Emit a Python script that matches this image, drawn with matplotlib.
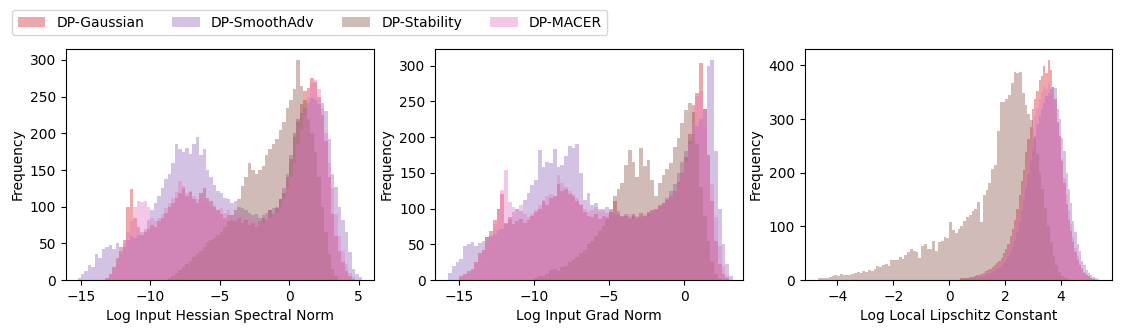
import numpy as np
import matplotlib.pyplot as plt

labels = ["DP-Gaussian", "DP-SmoothAdv", "DP-Stability", "DP-MACER"]
colors = ["tab:red", "tab:purple", "tab:brown", "tab:pink"]

# ---- panel 1: log input hessian spectral norm (bin width 0.25) ----
hess_width = 0.25
hess_gauss_start = -13.25
hess_gauss = [3, 8, 18, 30, 45, 55, 100, 124, 85, 72, 62, 66, 70, 75, 72, 80, 85, 92,
              100, 105, 112, 118, 125, 115, 120, 110, 105, 118, 125, 112, 108, 100, 95,
              90, 85, 88, 82, 80, 85, 78, 82, 75, 78, 72, 80, 85, 82, 95, 90, 98, 110,
              118, 140, 165, 200, 220, 240, 258, 262, 275, 270, 250, 225, 190, 140, 90,
              60, 40, 25, 12, 6, 2]
hess_smooth_start = -15.25
hess_smooth = [3, 8, 12, 20, 18, 35, 30, 42, 45, 48, 42, 50, 40, 45, 55, 60, 58, 62, 65,
               70, 82, 95, 105, 115, 125, 138, 145, 160, 185, 178, 175, 180, 172, 185,
               195, 170, 178, 150, 140, 130, 122, 118, 112, 110, 105, 108, 100, 98, 95,
               92, 88, 90, 85, 88, 92, 95, 98, 100, 110, 125, 145, 170, 195, 215, 228,
               235, 242, 248, 246, 240, 242, 230, 192, 144, 127, 100, 82, 65, 38, 15, 8, 4]
hess_stab_start = -8.75
hess_stab = [3, 6, 10, 14, 18, 22, 26, 32, 36, 40, 45, 52, 55, 58, 62, 66, 72, 80, 88,
             95, 110, 128, 140, 160, 150, 145, 150, 155, 170, 178, 185, 192, 205, 215,
             235, 245, 260, 300, 265, 245, 220, 200, 175, 140, 100, 65, 35, 15, 5]
hess_macer_start = -13.0
hess_macer = [5, 12, 22, 35, 50, 65, 80, 100, 108, 106, 108, 100, 85, 80, 85, 90, 98,
              105, 112, 120, 135, 128, 118, 122, 115, 110, 112, 105, 108, 100, 102, 95,
              98, 92, 95, 88, 92, 85, 90, 80, 85, 82, 78, 80, 78, 82, 85, 88, 92, 100,
              110, 125, 140, 160, 185, 205, 225, 250, 268, 272, 260, 235, 200, 160, 125,
              90, 60, 40, 22, 10, 4]

# ---- panel 2: log input grad norm (bin width 0.25) ----
grad_width = 0.25
grad_gauss_start = -15.0
grad_gauss = [5, 8, 12, 15, 25, 38, 42, 60, 68, 84, 100, 121, 80, 88, 78, 82, 85, 80,
              84, 90, 95, 100, 110, 105, 115, 118, 135, 125, 128, 120, 118, 110, 105,
              95, 90, 88, 92, 86, 90, 88, 95, 110, 92, 88, 90, 86, 92, 88, 94, 90, 95,
              98, 100, 105, 108, 112, 118, 125, 137, 150, 172, 205, 245, 262, 304, 240,
              175, 110, 55, 22, 8, 3]
grad_smooth_start = -15.75
grad_smooth = [10, 20, 25, 30, 48, 50, 53, 48, 52, 55, 60, 62, 65, 70, 72, 78, 85, 95,
               100, 96, 112, 122, 133, 140, 182, 158, 165, 164, 183, 158, 161, 173, 188,
               185, 190, 150, 112, 122, 105, 108, 100, 98, 102, 95, 92, 96, 90, 92, 88,
               90, 86, 88, 90, 92, 95, 98, 102, 108, 115, 125, 135, 150, 165, 180, 195,
               205, 215, 225, 240, 300, 308, 180, 100, 50, 22, 6]
grad_stab_start = -10.0
grad_stab = [3, 5, 6, 8, 14, 16, 12, 18, 20, 25, 28, 32, 38, 42, 50, 55, 62, 68, 75, 85,
             100, 117, 128, 136, 161, 182, 165, 144, 185, 160, 168, 140, 117, 136, 147,
             155, 164, 186, 199, 220, 238, 248, 235, 190, 130, 90, 55, 25, 8, 2]
grad_macer_start = -15.0
grad_macer = [3, 6, 10, 14, 22, 30, 40, 52, 62, 78, 100, 126, 154, 109, 102, 100, 105,
              92, 88, 92, 98, 105, 112, 118, 120, 115, 147, 136, 130, 125, 120, 115, 107,
              100, 95, 98, 102, 96, 100, 94, 98, 92, 95, 90, 88, 92, 86, 90, 88, 92, 90,
              95, 98, 102, 108, 112, 118, 125, 135, 148, 165, 190, 220, 258, 265, 215,
              170, 135, 88, 48, 20, 6]

# ---- panel 3: log local lipschitz constant ----
lips_width = 0.08
lips_gauss_start = 0.4
lips_gauss = [3, 3, 4, 4, 5, 6, 8, 9, 10, 12, 14, 17, 19, 20, 24, 28, 32, 36, 42, 50,
              58, 68, 82, 95, 112, 132, 158, 185, 205, 238, 262, 285, 318, 338, 352,
              372, 380, 398, 385, 410, 392, 360, 338, 295, 268, 222, 180, 142, 112, 92,
              70, 52, 38, 28, 20, 14, 10, 7, 4, 2, 1]
lips_smooth_start = 0.4
lips_smooth = [2, 2, 3, 3, 3, 4, 5, 5, 6, 7, 8, 10, 11, 13, 15, 17, 20, 23, 27, 31, 37,
               44, 52, 62, 75, 90, 108, 128, 150, 172, 198, 222, 245, 268, 290, 305, 318,
               330, 342, 348, 355, 360, 358, 318, 300, 265, 240, 200, 170, 143, 110, 90,
               68, 55, 35, 28, 18, 14, 9, 6, 4, 2]
lips_stab_width = 0.1
lips_stab_start = -4.7
lips_stab = [3, 3, 4, 3, 5, 8, 10, 7, 11, 9, 9, 10, 12, 13, 15, 14, 16, 15, 18, 17, 20,
             27, 25, 28, 30, 27, 38, 37, 38, 43, 40, 47, 52, 57, 55, 52, 42, 64, 68, 58,
             57, 72, 55, 70, 72, 81, 78, 109, 93, 88, 95, 100, 110, 118, 122, 128, 132,
             146, 109, 159, 168, 180, 206, 215, 277, 331, 331, 338, 345, 368, 387, 385,
             387, 349, 327, 310, 299, 265, 235, 200, 170, 135, 100, 70, 45, 28, 15, 8,
             4, 2]
lips_macer_start = 0.4
lips_macer = [2, 2, 3, 3, 4, 5, 6, 7, 8, 10, 11, 13, 15, 18, 20, 24, 28, 32, 38, 45,
              52, 60, 72, 85, 100, 118, 140, 160, 185, 210, 235, 262, 285, 305, 320, 338,
              350, 362, 355, 368, 345, 335, 310, 285, 255, 225, 190, 160, 130, 105, 80,
              60, 45, 32, 22, 15, 10, 6, 4, 2, 1]


def draw_panel(ax, series, xlabel):
	for (start, width, counts), label, color in zip(series, labels, colors):
		counts = np.asarray(counts, dtype=float)
		edges = start + width * np.arange(len(counts) + 1)
		centers = edges[:-1] + width / 2
		ax.hist(centers, bins=edges, weights=counts, histtype="stepfilled",
			color=color, alpha=0.4, label=label)
	ax.set_xlabel(xlabel)
	ax.set_ylabel("Frequency")


fig, axes = plt.subplots(1, 3, figsize=(11.21, 3.33), dpi=100)

draw_panel(axes[0], [
	(hess_gauss_start, hess_width, hess_gauss),
	(hess_smooth_start, hess_width, hess_smooth),
	(hess_stab_start, hess_width, hess_stab),
	(hess_macer_start, hess_width, hess_macer),
], "Log Input Hessian Spectral Norm")
axes[0].set_xlim(-16.08, 6.08)

draw_panel(axes[1], [
	(grad_gauss_start, grad_width, grad_gauss),
	(grad_smooth_start, grad_width, grad_smooth),
	(grad_stab_start, grad_width, grad_stab),
	(grad_macer_start, grad_width, grad_macer),
], "Log Input Grad Norm")
axes[1].set_xlim(-16.6, 3.93)

draw_panel(axes[2], [
	(lips_gauss_start, lips_width, lips_gauss),
	(lips_smooth_start, lips_width, lips_smooth),
	(lips_stab_start, lips_stab_width, lips_stab),
	(lips_macer_start, lips_width, lips_macer),
], "Log Local Lipschitz Constant")
axes[2].set_xlim(-5.17, 5.83)

fig.subplots_adjust(left=0.0589, right=0.9922, bottom=0.159, top=0.853, wspace=0.2)

# one legend for the whole figure, top left
handles, labs = axes[0].get_legend_handles_labels()
fig.legend(handles, labs, loc="upper left", ncol=4, borderaxespad=0,
	bbox_to_anchor=(12 / 1121, 1 - 10 / 333))

plt.savefig("out.png", dpi=100)
